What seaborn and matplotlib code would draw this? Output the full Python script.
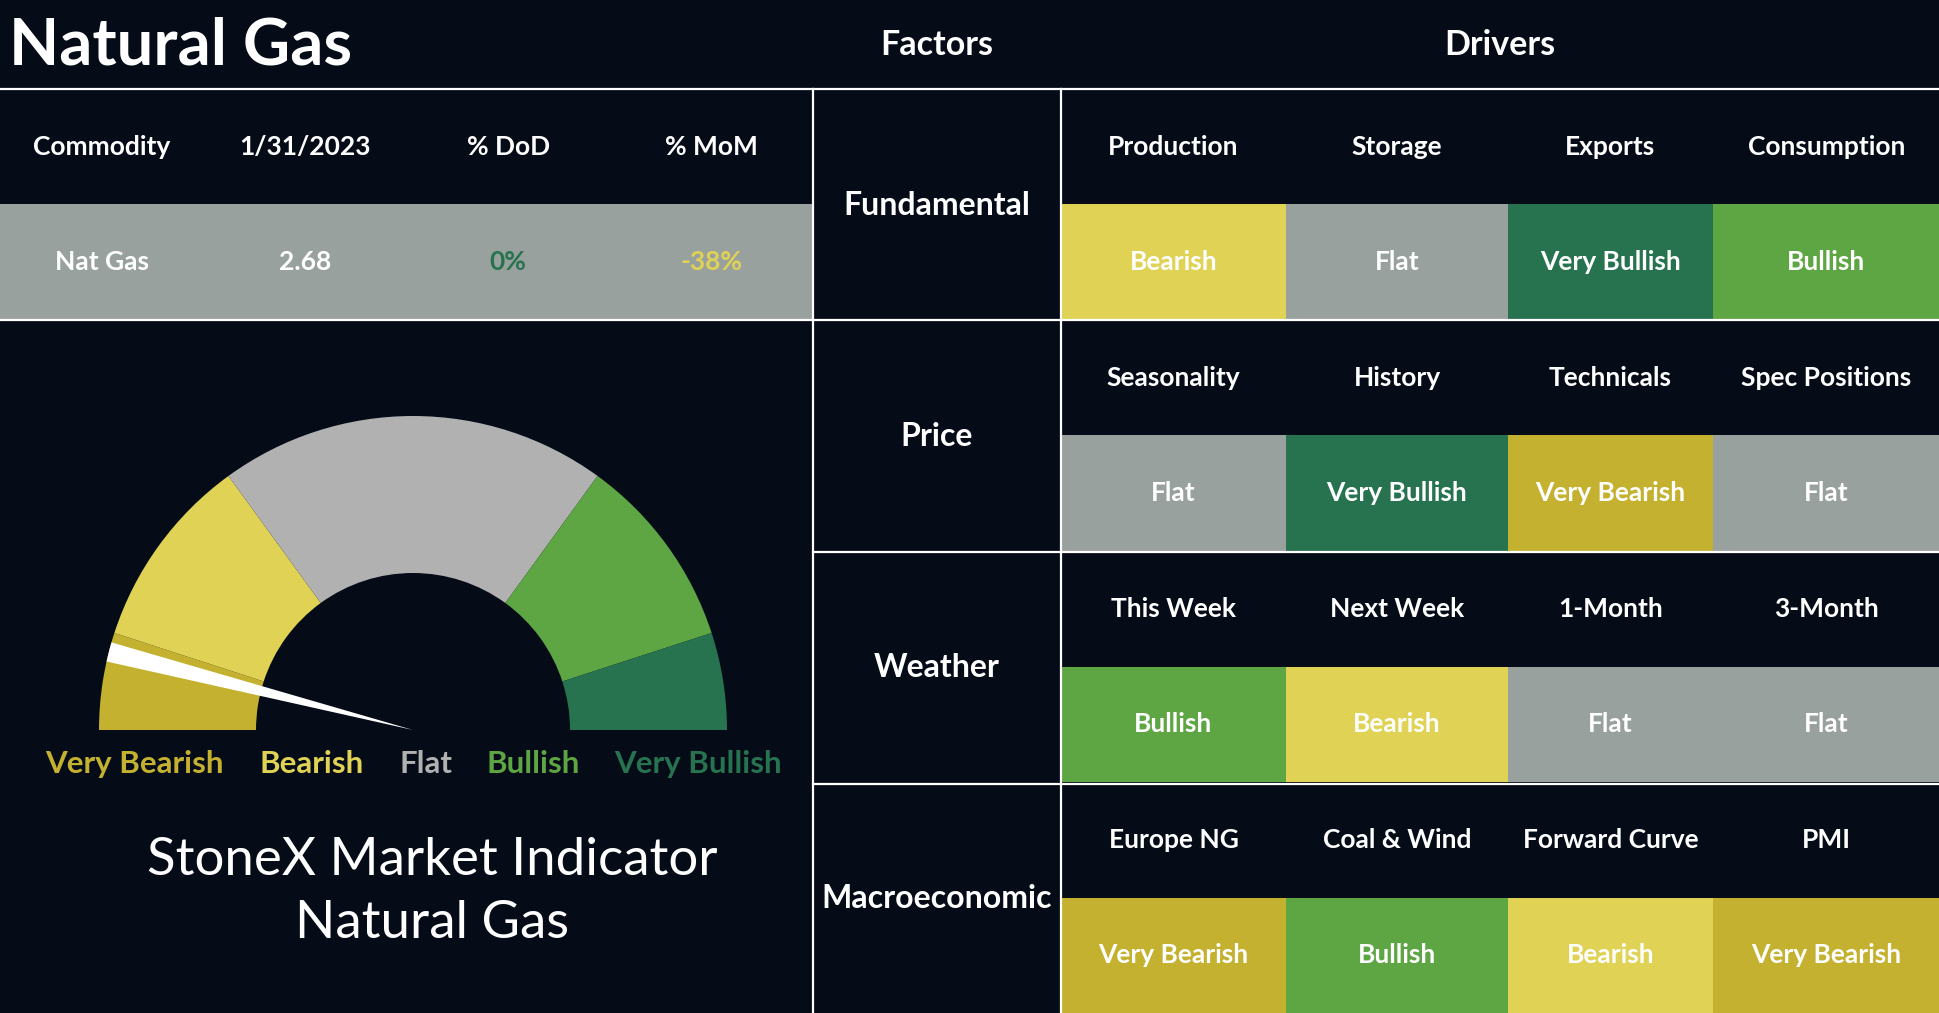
import numpy as np
import seaborn as sns
import matplotlib.pyplot as plt
from matplotlib.colors import ListedColormap

# ---- data ----
commodity = "Nat Gas"
as_of = "1/31/2023"
price = 2.68
pct_dod = 0
pct_mom = -38

levels = ["Very Bearish", "Bearish", "Flat", "Bullish", "Very Bullish"]
gauge_sizes = [1, 2, 4, 2, 1]
needle_start = 0.7
needle_width = 0.2

factors = ["Fundamental", "Price", "Weather", "Macroeconomic"]
drivers = [
    ["Production", "Storage", "Exports", "Consumption"],
    ["Seasonality", "History", "Technicals", "Spec Positions"],
    ["This Week", "Next Week", "1-Month", "3-Month"],
    ["Europe NG", "Coal & Wind", "Forward Curve", "PMI"],
]
signals = [
    ["Bearish", "Flat", "Very Bullish", "Bullish"],
    ["Flat", "Very Bullish", "Very Bearish", "Flat"],
    ["Bullish", "Bearish", "Flat", "Flat"],
    ["Very Bearish", "Bullish", "Bearish", "Very Bearish"],
]

# ---- style ----
BG = "#050c18"
level_colors = ["#c5b130", "#e0d254", "#99a19f", "#5ea543", "#277350"]
gauge_colors = ["#c5b130", "#e0d254", "#b1b1b1", "#5ea543", "#277350"]
FONT = "Lato"
WT = "bold"
cmap = ListedColormap([BG] + level_colors)

W, H = 1940, 1013
fig = plt.figure(figsize=(W / 100, H / 100), dpi=100, facecolor=BG)


def px_axes(x0, y0, x1, y1, **kw):
    return fig.add_axes([x0 / W, 1 - y1 / H, (x1 - x0) / W, (y1 - y0) / H], **kw)


cell_kw = dict(color="white", fontsize=19, fontweight=WT, fontfamily=FONT)

# left table: header row + value row
tbl_head = ["Commodity", as_of, "% DoD", "% MoM"]
tbl_vals = [commodity, f"{price:.2f}", f"{pct_dod:.0f}%", f"{pct_mom:.0f}%"]
tbl_codes = np.array([[0] * 4, [levels.index("Flat") + 1] * 4])
ax_tbl = px_axes(0, 89, 813, 320)
sns.heatmap(tbl_codes, ax=ax_tbl, cmap=cmap, vmin=-0.5, vmax=5.5, cbar=False,
            annot=np.array([tbl_head, tbl_vals]), fmt="", annot_kws=cell_kw,
            xticklabels=False, yticklabels=False)
val_colors = {tbl_vals[2]: "#277350", tbl_vals[3]: "#e0d254"}
for t in ax_tbl.texts:
    if t.get_text() in val_colors:
        t.set_color(val_colors[t.get_text()])

# drivers grid, one heatmap column per driver slot
col_edges = [1061, 1286, 1508, 1713, 1940]
for j in range(4):
    codes, labels = [], []
    for i in range(len(factors)):
        codes += [0, levels.index(signals[i][j]) + 1]
        labels += [drivers[i][j], signals[i][j]]
    ax = px_axes(col_edges[j], 89, col_edges[j + 1], 1013)
    sns.heatmap(np.array(codes).reshape(-1, 1), ax=ax, cmap=cmap, vmin=-0.5, vmax=5.5,
                cbar=False, annot=np.array(labels).reshape(-1, 1), fmt="",
                annot_kws=cell_kw, xticklabels=False, yticklabels=False)

# gauge
R = 314
ax_g = px_axes(63, 380, 763, 780)
ax_g.pie(gauge_sizes + [sum(gauge_sizes)], colors=gauge_colors + ["none"],
         startangle=180, counterclock=False, radius=1,
         wedgeprops=dict(width=0.5, linewidth=0))
rest = 2 * sum(gauge_sizes) - needle_start - needle_width
ax_g.pie([needle_start, needle_width, rest], colors=["none", "white", "none"],
         startangle=180, counterclock=False, radius=1, wedgeprops=dict(linewidth=0))
ax_g.set_xlim(-350 / R, 350 / R)
ax_g.set_ylim(-50 / R, 350 / R)
ax_g.axis("off")

# overlay for titles, labels and separators
ov = fig.add_axes([0, 0, 1, 1], zorder=10)
ov.set_xlim(0, W)
ov.set_ylim(H, 0)
ov.axis("off")
ov.patch.set_alpha(0)

ov.text(9, 46, "Natural Gas", color="white", fontsize=47, fontweight="bold",
        fontfamily=FONT, ha="left", va="center")
ov.text(937, 45, "Factors", color="white", fontsize=24.5, fontweight=WT,
        fontfamily=FONT, ha="center", va="center")
ov.text(1500, 45, "Drivers", color="white", fontsize=24.5, fontweight=WT,
        fontfamily=FONT, ha="center", va="center")
for i, f in enumerate(factors):
    ov.text(937, 89 + 231 * i + 116, f, color="white", fontsize=23,
            fontweight=WT, fontfamily=FONT, ha="center", va="center")

for x, lab, c in zip([134, 312, 426, 533, 698], levels, gauge_colors):
    ov.text(x, 764, lab, color=c, fontsize=22.5, fontweight=WT,
            fontfamily=FONT, ha="center", va="center")

ov.text(432, 860, "StoneX Market Indicator", color="white", fontsize=38,
        fontweight="normal", fontfamily=FONT, ha="center", va="center")
ov.text(432, 923, "Natural Gas", color="white", fontsize=38,
        fontweight="normal", fontfamily=FONT, ha="center", va="center")

lw = 1.6
ov.plot([0, W], [89, 89], color="white", lw=lw)
ov.plot([0, W], [320, 320], color="white", lw=lw)
for y in (552, 784):
    ov.plot([813, W], [y, y], color="white", lw=lw)
for x in (813, 1061):
    ov.plot([x, x], [89, H], color="white", lw=lw)

fig.savefig("out.png", dpi=100, facecolor=BG)
